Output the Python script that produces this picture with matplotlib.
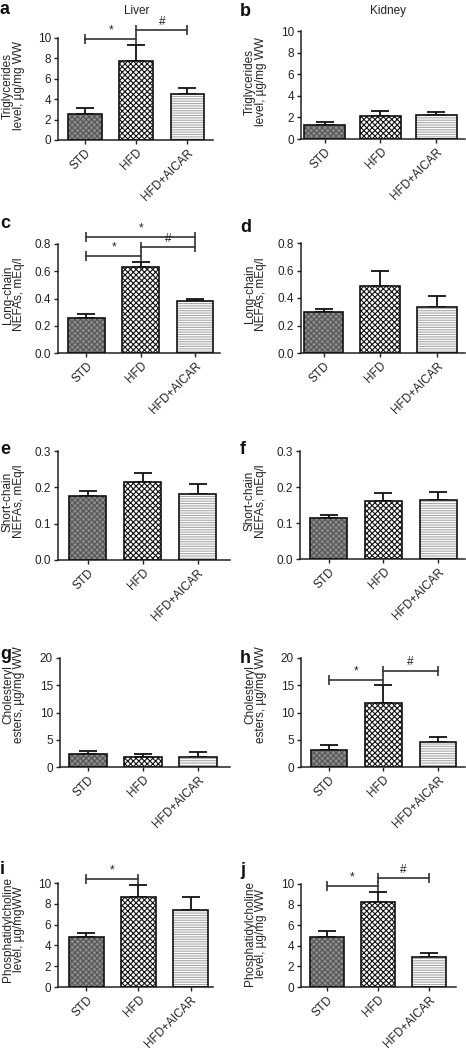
import matplotlib
matplotlib.use("Agg")
import matplotlib.pyplot as plt
import numpy as np

plt.rcParams["font.family"] = ["Liberation Sans", "DejaVu Sans"]
plt.rcParams["hatch.linewidth"] = 0.8

groups = ["STD", "HFD", "HFD+AICAR"]

# mean values and upper SEM
tg_liver = [2.54, 7.75, 4.53]
tg_liver_err = [0.56, 1.6, 0.52]
tg_kidney = [1.26, 2.15, 2.18]
tg_kidney_err = [0.31, 0.45, 0.32]
lc_liver = [0.256, 0.633, 0.379]
lc_liver_err = [0.027, 0.037, 0.015]
lc_kidney = [0.30, 0.488, 0.334]
lc_kidney_err = [0.022, 0.112, 0.078]
sc_liver = [0.175, 0.216, 0.181]
sc_liver_err = [0.016, 0.024, 0.027]
sc_kidney = [0.113, 0.162, 0.164]
sc_kidney_err = [0.009, 0.022, 0.023]
ce_liver = [2.3, 1.85, 1.9]
ce_liver_err = [0.6, 0.6, 0.8]
ce_kidney = [3.2, 11.8, 4.6]
ce_kidney_err = [0.8, 3.3, 0.9]
pc_liver = [4.77, 8.65, 7.42]
pc_liver_err = [0.43, 1.12, 1.23]
pc_kidney = [4.9, 8.26, 2.95]
pc_kidney_err = [0.5, 0.99, 0.39]

# significance brackets: (from group, to group, height, symbol)
sig_a = [(0, 1, 9.9, "*"), (1, 2, 10.75, "#")]
sig_c = [(0, 1, 0.714, "*"), (1, 2, 0.776, "#"), (0, 2, 0.853, "*")]
sig_h = [(0, 1, 16.0, "*"), (1, 2, 17.7, "#")]
sig_i = [(0, 1, 10.4, "*")]
sig_j = [(0, 1, 9.84, "*"), (1, 2, 10.6, "#")]

W, H = 466, 1050
fig = plt.figure(figsize=(W / 100, H / 100), dpi=100)

# letter, values, err, ymax, ystep, ylabel, sig, pixel box (l, r, top, bottom),
# xlim, bar width, y-label centre shift (px)
panels = [
    ("a", tg_liver, tg_liver_err, 10, 2, "Triglycerides\nlevel, µg/mg WW", sig_a,
     (58, 213, 38, 140), (-0.53, 2.5), 0.66, -3),
    ("b", tg_kidney, tg_kidney_err, 10, 2, "Triglycerides\nlevel, µg/mg WW", [],
     (301, 465, 31, 139), (-0.42, 2.51), 0.72, -3),
    ("c", lc_liver, lc_liver_err, 0.8, 0.2, "Long-chain\nNEFAs, mEq/l", sig_c,
     (58, 220, 244, 353), (-0.525, 2.46), 0.68, -4),
    ("d", lc_kidney, lc_kidney_err, 0.8, 0.2, "Long-chain\nNEFAs, mEq/l", [],
     (301, 465, 243, 353), (-0.4, 2.5), 0.7, -4),
    ("e", sc_liver, sc_liver_err, 0.3, 0.1, "Short-chain\nNEFAs, mEq/l", [],
     (58, 230, 451, 560), (-0.54, 2.59), 0.67, -4),
    ("f", sc_kidney, sc_kidney_err, 0.3, 0.1, "Short-chain\nNEFAs, mEq/l", [],
     (300, 465, 451, 559), (-0.52, 2.49), 0.67, -4),
    ("g", ce_liver, ce_liver_err, 20, 5, "Cholesteryl\nesters, µg/mg WW", [],
     (60, 230, 658, 767), (-0.51, 2.58), 0.69, -18),
    ("h", ce_kidney, ce_kidney_err, 20, 5, "Cholesteryl\nesters, µg/mg WW", sig_h,
     (301, 465, 658, 767), (-0.51, 2.5), 0.67, -18),
    ("i", pc_liver, pc_liver_err, 10, 2, "Phosphatidylcholine\nlevel, µg/mgWW", sig_i,
     (58, 213, 883, 987), (-0.54, 2.43), 0.67, -6),
    ("j", pc_kidney, pc_kidney_err, 10, 2, "Phosphatidylcholine\nlevel, µg/mg WW", sig_j,
     (301, 456, 884, 987), (-0.51, 2.53), 0.67, -2),
]

fills = [("#8c8c8c", "#555555", "xxxxxx"),
         ("#ffffff", "#111111", "xxxxxx"),
         ("#ffffff", "#a8a8a8", "-------")]

letter_pos = {"a": (0, 14), "b": (240, 16), "c": (0, 228), "d": (240, 232),
              "e": (0, 454), "f": (240, 454), "g": (0, 659), "h": (240, 663),
              "i": (0, 874), "j": (240, 875)}

txt = "#222222"
fs = 8.5
for letter, vals, errs, ymax, ystep, ylabel, sig, box, xlim, bw, dy in panels:
    l, r, t, b = box
    ax = fig.add_axes([l / W, (H - b) / H, (r - l) / W, (b - t) / H])
    x = np.arange(len(groups))
    for k in range(len(groups)):
        face, hcol, hatch = fills[k]
        ax.bar(x[k], vals[k], width=bw, color=face, edgecolor=hcol,
               hatch=hatch, linewidth=0, zorder=2)
    ax.bar(x, vals, width=bw, fill=False, edgecolor="#111111", linewidth=1.2,
           zorder=3)
    ax.errorbar(x, vals, yerr=[np.zeros(len(vals)), errs], fmt="none",
                ecolor="#111111", elinewidth=1.3, capsize=6.5, capthick=1.3,
                zorder=1)
    ax.set_xlim(*xlim)
    ax.set_ylim(0, ymax)
    ax.set_yticks(np.arange(0, ymax + ystep / 2, ystep))
    if ystep < 1:
        ax.set_yticklabels([f"{v:.1f}" for v in ax.get_yticks()])
    else:
        ax.set_yticklabels([f"{v:g}" for v in ax.get_yticks()])
    ax.set_xticks(x)
    ax.set_xticklabels(groups, rotation=45, ha="right", va="top",
                       rotation_mode="anchor")
    ax.tick_params(labelsize=fs, colors=txt, length=3, width=1, pad=2)
    for s in ["top", "right"]:
        ax.spines[s].set_visible(False)
    for s in ["left", "bottom"]:
        ax.spines[s].set_linewidth(1.1)
        ax.spines[s].set_color("#222222")

    for i0, i1, yy, sym in sig:
        ax.plot([x[i0], x[i1]], [yy, yy], color="#333333", lw=1.2,
                marker="|", markersize=7, markeredgewidth=1.2, clip_on=False)
        ax.annotate(sym, ((x[i0] + x[i1]) / 2, yy), xytext=(0, 1.5),
                    textcoords="offset points", ha="center", va="bottom",
                    fontsize=fs, color=txt, annotation_clip=False)

    # two-line y label, one text per line
    cx = 8 if l < 200 else 250
    cy = (t + b) / 2 + dy
    for n, line in enumerate(ylabel.split("\n")):
        fig.text((cx + 11 * n) / W, (H - cy) / H, line, rotation=90,
                 ha="center", va="center", fontsize=fs, color=txt)
    lx, ly = letter_pos[letter]
    fig.text(lx / W, (H - ly) / H, letter, fontsize=13, fontweight="bold",
             ha="left", va="baseline", color="#111111")

fig.text(137 / W, (H - 11) / H, "Liver", ha="center", va="center",
         fontsize=fs, color=txt)
fig.text(388 / W, (H - 11) / H, "Kidney", ha="center", va="center",
         fontsize=fs, color=txt)

fig.savefig("out.png", dpi=100)
